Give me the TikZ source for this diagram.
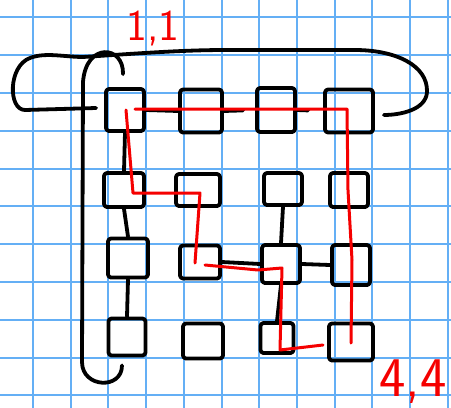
\documentclass[tikz,border=0pt]{standalone}
\usetikzlibrary{calc}
\definecolor{gridblue}{RGB}{100,175,245}
\definecolor{inkred}{RGB}{245,0,0}
\begin{document}
\begin{tikzpicture}[x=1pt,y=-1pt,line cap=round,line join=round,
  box/.style={draw=black,line width=3.8pt,rounded corners=3pt,minimum width=38pt,minimum height=38pt,inner sep=0pt},
  link/.style={draw=black,line width=3.8pt},
  loopline/.style={draw=black,line width=3.8pt},
  redpath/.style={draw=inkred,line width=3pt},
  gridline/.style={draw=gridblue,line width=2pt},
  lbl/.style={text=inkred,inner sep=0pt}]
\fill[white] (0,0) rectangle (451,408);
\useasboundingbox (0,0) rectangle (451,408);
\foreach \i in {0,...,11} \draw[gridline] ({33+37.72*\i},0) -- ({33+37.72*\i},408);
\foreach \j in {0,...,10} \draw[gridline] (0,{17.3+37.8*\j}) -- (451,{17.3+37.8*\j});
% nodes
\node[box,minimum width=38pt,minimum height=42pt] (n11) at (125,110) {};
\node[box,minimum width=42pt,minimum height=43pt] (n12) at (201,111) {};
\node[box,minimum width=38pt,minimum height=44pt] (n13) at (276,110) {};
\node[box,minimum width=48pt,minimum height=43pt] (n14) at (349,111) {};
\node[box,minimum width=40pt,minimum height=34pt] (n21) at (124,190) {};
\node[box,minimum width=44pt,minimum height=32pt] (n22) at (198,190) {};
\node[box,minimum width=38pt,minimum height=32pt] (n23) at (283,189) {};
\node[box,minimum width=38pt,minimum height=34pt] (n24) at (349,190) {};
\node[box,minimum width=40pt,minimum height=39pt] (n31) at (128,258) {};
\node[box,minimum width=40pt,minimum height=33pt] (n32) at (200,262) {};
\node[box,minimum width=38pt,minimum height=38pt] (n33) at (281,264) {};
\node[box,minimum width=38pt,minimum height=40pt] (n34) at (351,265) {};
\node[box,minimum width=37pt,minimum height=37pt] (n41) at (127,337) {};
\node[box,minimum width=40pt,minimum height=35pt] (n42) at (203,341) {};
\node[box,minimum width=33pt,minimum height=30pt] (n43) at (277,338) {};
\node[box,minimum width=44pt,minimum height=37pt] (n44) at (351,342) {};
% links
\draw[link] (n11.east) -- (n12.west);
\draw[link,shorten >=12pt] (n12.east) -- (n13.west);
\draw[link,shorten >=15pt] (n13.east) -- (n14.west);
\draw[link] (n11.south) -- (n21.north);
\draw[link] (n21.south) -- (n31.north);
\draw[link] (n31.south) -- (n41.north);
\draw[link] (n23.south) -- (n33.north);
\draw[link] (n33.south) -- (n43.north);
\draw[link] (n32.east) -- (n33.west);
\draw[link] (n33.east) -- (n34.west);
% wrap-around loops
\draw[loopline] ([shift={(-2,-13)}]n11.north) .. controls (124,45) and (86,42) .. (83,82)
  -- (82,362) .. controls (82,388) and (122,390) .. ([shift={(-5,8)}]n41.south);
\draw[loopline] ([shift={(-8,-2)}]n11.west) -- (25,110) .. controls (8,110) and (8,66) .. (30,58)
  .. controls (45,52) and (65,57) .. (83,57) .. controls (130,54) and (180,50) .. (225,50)
  -- (355,50) .. controls (395,50) and (428,65) .. (427,92)
  .. controls (426,110) and (400,115) .. ([shift={(9,4)}]n14.east);
% red path
\draw[redpath] ($(n11.center)+(1,0)$) -- ($(n21.center)+(9,3)$) -- ($(n22.center)+(2,3)$) -- ($(n32.center)+(-5,1)$)
  ($(n32.center)+(5,3)$) -- ($(n33.center)+(-23,6)$) -- ($(n33.center)+(1,4)$) -- ($(n43.center)+(3,12)$) -- ($(n44.center)+(-28,3)$);
\draw[redpath] ($(n44.center)+(0,1)$) -- ($(n34.center)+(1,-5)$) -- ($(n24.center)+(-1,0)$) -- ($(n14.center)+(-2,-2)$) -- ($(n11.center)+(10,-1)$);
% labels
\node[lbl,font=\sffamily\fontsize{44}{44}\selectfont] (l11) at (153,28) {1,1};
\node[lbl,font=\sffamily\fontsize{56}{56}\selectfont] (l44) at (413,382) {4,4};
\end{tikzpicture}
\end{document}
